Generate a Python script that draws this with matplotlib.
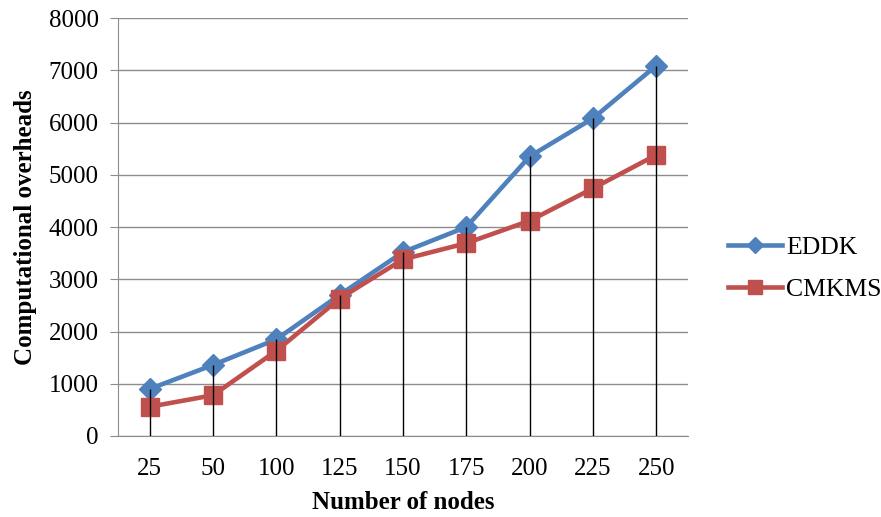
import numpy as np
import matplotlib.pyplot as plt

# number of nodes (categories) and overheads
nodes = ['25', '50', '100', '125', '150', '175', '200', '225', '250']
eddk = [900, 1360, 1850, 2700, 3520, 4000, 5350, 6080, 7090]
cmkms = [560, 780, 1630, 2630, 3380, 3690, 4120, 4740, 5380]

plt.rcParams['font.family'] = ['Liberation Serif', 'DejaVu Serif']

fig = plt.figure(figsize=(8.81, 5.17), dpi=100)
ax = fig.add_axes([118/881, 81/517, 570/881, 418/517])

x = np.arange(len(nodes))
ax.plot(x, eddk, color='#4F81BD', lw=3.3, marker='D', ms=11, label='EDDK', zorder=3)
ax.plot(x, cmkms, color='#C0504D', lw=3.3, marker='s', ms=13, label='CMKMS', zorder=3)

# drop lines from the top point down to the axis
tops = np.maximum(eddk, cmkms)
ax.vlines(x, 0, tops, color='black', lw=1, zorder=4)

ax.set_xlim(-0.5, len(nodes) - 0.5)
ax.set_ylim(0, 8000)
ax.set_yticks(range(0, 8001, 1000))
ax.set_xticks(x)
ax.set_xticklabels(nodes)
ax.grid(axis='y', color='#8c8c8c', lw=1)
ax.set_axisbelow(True)
for s in ['top', 'right']:
    ax.spines[s].set_visible(False)
for s in ['left', 'bottom']:
    ax.spines[s].set_color('#8c8c8c')
ax.tick_params(axis='x', length=0, pad=16, labelsize=18)
ax.tick_params(axis='y', length=6, color='#8c8c8c', pad=8, labelsize=18)

ax.set_xlabel('Number of nodes', fontsize=18, fontweight='bold', labelpad=8)
ax.set_ylabel('Computational overheads', fontsize=18, fontweight='bold', labelpad=8)

ax.legend(loc='center left', bbox_to_anchor=(1.03, 0.40), frameon=False,
          fontsize=18.5, handlelength=2.1, labelspacing=0.75, handletextpad=0.15,
          markerscale=0.75)

fig.savefig('out.png', dpi=100)
